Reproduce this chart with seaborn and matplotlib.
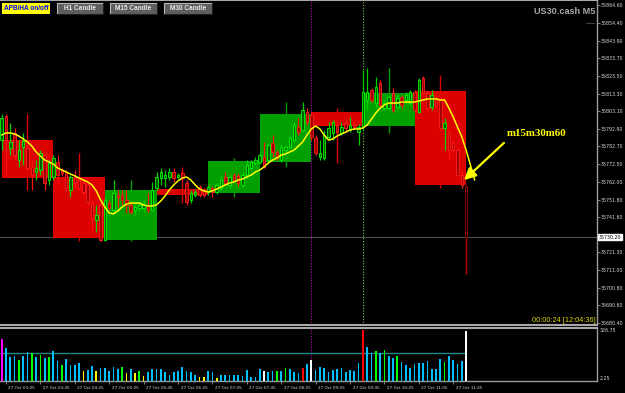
import matplotlib
matplotlib.use("Agg")
import matplotlib.pyplot as plt
import seaborn as sns
import numpy as np
from matplotlib import font_manager as fm
from matplotlib.patches import Rectangle
from matplotlib.lines import Line2D
from matplotlib.transforms import blended_transform_factory, ScaledTranslation

# ---------------- data ----------------
opens = [35786.4, 35800.3, 35781.8, 35790.5, 35774.8, 35782.4, 35781.8, 35770.8, 35767.9, 35769.0,
         35777.7, 35763.2, 35765.0, 35773.7, 35768.5, 35767.9, 35757.5, 35765.0, 35763.2, 35761.5,
         35760.4, 35749.9, 35740.1, 35748.8, 35728.5, 35749.9, 35745.9, 35754.6, 35754.6, 35751.7,
         35748.8, 35745.9, 35747.0, 35747.0, 35748.2, 35745.9, 35758.6, 35764.4, 35764.4, 35765.0,
         35767.9, 35765.0, 35767.3, 35761.5, 35751.7, 35754.6, 35759.2, 35757.5, 35756.3, 35758.6,
         35756.3, 35758.6, 35765.0, 35760.4, 35766.1, 35765.6, 35760.4, 35766.1, 35770.2, 35773.1,
         35773.7, 35776.6, 35774.8, 35784.7, 35779.5, 35774.8, 35780.6, 35782.4, 35786.4, 35793.9,
         35792.2, 35802.6, 35800.9, 35787.6, 35776.6, 35776.0, 35788.2, 35790.5, 35795.1, 35790.5,
         35796.3, 35792.2, 35795.1, 35791.0, 35793.9, 35809.6, 35815.4, 35807.8, 35819.4, 35804.9,
         35804.9, 35813.6, 35805.5, 35811.3, 35809.6, 35807.8, 35814.2, 35802.6, 35822.3, 35813.6,
         35805.5, 35810.7, 35809.6, 35793.4, 35790.5, 35784.7, 35780.6, 35766.1, 35759.2]
highs = [35801.5, 35801.5, 35796.3, 35793.4, 35786.4, 35790.5, 35783.5, 35774.8, 35774.8, 35780.6,
         35778.9, 35774.8, 35777.7, 35777.7, 35770.2, 35769.0, 35766.1, 35769.0, 35765.0, 35763.2,
         35761.5, 35751.7, 35748.8, 35749.9, 35753.4, 35751.7, 35763.2, 35757.5, 35757.5, 35757.5,
         35749.9, 35749.9, 35749.9, 35751.7, 35755.7, 35762.1, 35767.9, 35770.2, 35769.0, 35770.2,
         35770.2, 35767.3, 35769.0, 35763.2, 35757.5, 35758.0, 35760.4, 35758.6, 35760.4, 35759.8,
         35761.5, 35766.1, 35767.9, 35766.7, 35767.3, 35767.3, 35767.9, 35774.8, 35774.8, 35776.6,
         35779.5, 35785.3, 35784.7, 35789.3, 35780.6, 35783.5, 35783.5, 35789.3, 35796.8, 35799.2,
         35808.4, 35804.9, 35802.6, 35789.3, 35786.4, 35792.2, 35796.8, 35798.0, 35796.8, 35796.8,
         35799.2, 35799.7, 35796.8, 35795.7, 35827.0, 35828.1, 35816.5, 35822.9, 35821.2, 35809.6,
         35812.5, 35816.5, 35812.5, 35812.5, 35814.2, 35815.4, 35815.4, 35822.3, 35823.5, 35815.4,
         35815.4, 35811.9, 35810.7, 35799.2, 35792.2, 35786.4, 35781.8, 35767.9, 35760.4]
lows = [35780.6, 35766.1, 35777.7, 35774.8, 35770.8, 35771.9, 35769.0, 35757.5, 35763.2, 35766.1,
        35757.5, 35760.4, 35763.2, 35760.4, 35765.6, 35756.3, 35753.4, 35758.6, 35757.5, 35754.6,
        35748.8, 35734.3, 35733.1, 35727.9, 35727.9, 35745.9, 35744.1, 35747.6, 35748.8, 35744.1,
        35743.6, 35743.0, 35745.3, 35744.7, 35744.7, 35745.3, 35757.5, 35760.4, 35759.2, 35763.2,
        35762.1, 35763.8, 35763.2, 35748.8, 35749.9, 35753.4, 35753.4, 35753.4, 35754.6, 35753.4,
        35755.1, 35757.5, 35760.4, 35758.6, 35762.1, 35759.8, 35759.2, 35764.4, 35769.0, 35771.9,
        35772.5, 35770.2, 35773.7, 35776.6, 35774.8, 35773.7, 35779.5, 35781.2, 35785.3, 35789.3,
        35791.0, 35795.1, 35786.4, 35777.7, 35774.8, 35774.8, 35786.4, 35786.4, 35789.9, 35789.3,
        35791.0, 35791.0, 35792.8, 35783.5, 35792.2, 35803.8, 35808.4, 35804.9, 35805.5, 35803.8,
        35803.8, 35802.6, 35803.8, 35804.9, 35807.8, 35806.7, 35802.6, 35802.0, 35812.5, 35803.8,
        35803.8, 35804.9, 35792.2, 35780.6, 35774.8, 35779.5, 35765.0, 35758.6, 35708.8]
closes = [35799.2, 35786.4, 35785.3, 35777.7, 35780.6, 35785.8, 35770.2, 35766.1, 35770.2, 35778.9,
          35761.5, 35773.1, 35776.0, 35766.1, 35767.3, 35758.6, 35765.0, 35761.5, 35758.6, 35756.3,
          35750.5, 35741.2, 35743.0, 35728.5, 35751.7, 35747.0, 35755.7, 35753.4, 35751.7, 35748.8,
          35744.7, 35747.6, 35748.8, 35748.8, 35745.9, 35757.5, 35765.0, 35767.9, 35766.1, 35767.9,
          35764.4, 35766.1, 35764.4, 35750.5, 35755.7, 35756.3, 35754.6, 35754.6, 35759.2, 35756.3,
          35760.4, 35763.2, 35761.5, 35765.0, 35763.2, 35761.5, 35766.1, 35771.9, 35773.7, 35774.8,
          35777.7, 35770.8, 35783.5, 35779.5, 35776.0, 35782.4, 35782.4, 35787.6, 35795.1, 35791.0,
          35803.8, 35796.8, 35788.2, 35778.9, 35778.9, 35789.3, 35793.4, 35796.8, 35791.0, 35793.9,
          35793.4, 35795.1, 35793.9, 35793.9, 35814.2, 35814.2, 35809.6, 35817.1, 35806.7, 35807.8,
          35811.3, 35803.8, 35810.7, 35806.7, 35812.5, 35814.2, 35803.8, 35821.2, 35813.6, 35804.9,
          35812.5, 35806.7, 35793.4, 35796.3, 35780.6, 35780.6, 35766.1, 35760.4, 35730.2]

# yellow moving average (one value per bar, line runs slightly past the last bar)
ma_values = [35789.3, 35790.5, 35790.5, 35789.9, 35788.7, 35787.0, 35785.3, 35782.9, 35779.5, 35777.1,
             35774.8, 35773.7, 35772.5, 35770.2, 35769.0, 35767.9, 35766.7, 35765.6, 35764.4, 35763.2,
             35762.1, 35760.4, 35756.9, 35751.7, 35747.6, 35744.1, 35743.6, 35745.3, 35747.6, 35749.3,
             35749.9, 35749.9, 35749.9, 35748.8, 35748.2, 35748.2, 35748.8, 35751.1, 35754.0, 35757.5,
             35760.4, 35762.7, 35764.4, 35765.0, 35763.2, 35760.4, 35758.0, 35756.9, 35756.3, 35756.9,
             35758.0, 35759.2, 35760.4, 35761.5, 35762.1, 35763.2, 35763.8, 35765.0, 35766.1, 35767.9,
             35769.0, 35770.8, 35773.1, 35774.8, 35776.0, 35777.7, 35778.3, 35779.5, 35780.6, 35782.9,
             35785.3, 35789.3, 35792.8, 35794.5, 35792.8, 35789.3, 35786.4, 35787.0, 35788.7, 35789.9,
             35791.0, 35792.2, 35792.8, 35792.8, 35793.4, 35795.1, 35798.6, 35802.0, 35804.9, 35806.7,
             35807.8, 35807.8, 35807.8, 35808.4, 35808.4, 35808.4, 35808.4, 35809.0, 35809.6, 35810.2,
             35810.2, 35810.2, 35809.6, 35809.6, 35804.9, 35799.7, 35793.9, 35788.2, 35780.6, 35771.9,
             35763.2]

# hourly (H1) candles drawn as boxes
box_open = [35786.4, 35765.0, 35728.5, 35758.0, 35755.7, 35773.7, 35802.6, 35794.5, 35814.8]
box_close = [35764.4, 35729.7, 35757.5, 35754.6, 35774.3, 35801.5, 35794.5, 35813.6, 35760.4]
box_high = [35801.5, 35778.9, 35763.2, 35770.8, 35776.0, 35808.4, 35804.9, 35828.1, 35824.1]
box_low = [35757.5, 35727.9, 35727.9, 35749.9, 35753.4, 35770.8, 35773.1, 35790.5, 35758.6]

volumes = [265.7, 204.8, 144.0, 150.7, 123.7, 150.7, 177.8, 171.0, 144.0, 157.5,
           137.2, 144.0, 184.5, 116.9, 89.9, 130.5, 89.9, 89.9, 103.4, 49.3,
           56.1, 83.1, 49.3, 69.6, 69.6, 49.3, 76.4, 62.8, 76.4, 35.8,
           62.8, 35.8, 49.3, 15.5, 42.6, 62.8, 62.8, 62.8, 42.6, 22.3,
           42.6, 49.3, 76.4, 49.3, 42.6, 22.3, 8.8, 8.8, 49.3, 42.6,
           2.25, 22.3, 22.3, 22.3, 22.3, 22.3, 15.5, 56.1, 8.8, 8.8,
           62.8, 49.3, 42.6, 49.3, 49.3, 49.3, 69.6, 62.8, 42.6, 35.8,
           69.6, 96.7, 123.7, 56.1, 76.4, 69.6, 42.6, 56.1, 62.8, 69.6,
           42.6, 56.1, 49.3, 103.4, 326.5, 211.6, 171.0, 184.5, 171.0, 191.3,
           150.7, 137.2, 150.7, 110.2, 89.9, 69.6, 96.7, 103.4, 103.4, 116.9,
           62.8, 62.8, 130.5, 110.2, 150.7, 123.7, 96.7, 116.9, 319.7]
vol_kind = ("mcccgccgcg" "cgccgccccy" "ccycccccgy" "cygycccccc" "ccccccyycc"
            "yccccccccc" "cwccgcgccc" "rcwccccccc" "ccccrccgcg" "ccgccccccc" "cccgccccw")
avg_volume = 169.0

price_ticks = [35864.60, 35854.40, 35843.90, 35833.70, 35823.50, 35813.30, 35803.10, 35792.90,
               35782.70, 35772.50, 35762.00, 35751.80, 35741.60, 35721.30, 35711.00, 35700.80,
               35690.60, 35680.40]
vol_ticks = [326.75, 2.25]
time_labels = ["27 Oct 03:05", "27 Oct 03:45", "27 Oct 04:25", "27 Oct 05:05", "27 Oct 05:45",
               "27 Oct 06:25", "27 Oct 07:05", "27 Oct 07:45", "27 Oct 08:25", "27 Oct 09:05",
               "27 Oct 09:45", "27 Oct 10:25", "27 Oct 11:05", "27 Oct 11:45"]
time_label_bars = [1 + 8 * k for k in range(len(time_labels))]
marker_bars = {"magenta": 72, "green": 84}

# ---------------- style ----------------
sns.set_theme(style="dark")
avail = {f.name for f in fm.fontManager.ttflist}
NARROW = 'Liberation Sans Narrow' if 'Liberation Sans Narrow' in avail else 'DejaVu Sans'
SANS = 'Liberation Sans' if 'Liberation Sans' in avail else 'DejaVu Sans'
SERIF = 'Liberation Serif' if 'Liberation Serif' in avail else 'DejaVu Serif'
plt.rcParams['font.family'] = [SANS, 'DejaVu Sans']
AX_FS = 4.5 if NARROW != 'DejaVu Sans' else 3.4
XL_FS = 3.9 if NARROW != 'DejaVu Sans' else 3.0

W, H = 625, 393
fig = plt.figure(figsize=(6.25, 3.93), dpi=100, facecolor='black')


def fx(x):
    return x / W


def fy(y):
    return 1 - y / H


ax = fig.add_axes([0, fy(325), fx(597), 325 / H])
axv = fig.add_axes([0, fy(381), fx(597), 53 / H], sharex=ax)
GRAY = '#9a9a9a'
for a in (ax, axv):
    a.set_facecolor('black')
    a.grid(False)
    for s in a.spines.values():
        s.set_visible(False)
    a.spines['right'].set_visible(True)
    a.spines['right'].set_color(GRAY)
    a.spines['right'].set_linewidth(1.0)
ax.spines['bottom'].set_visible(True)
ax.spines['bottom'].set_color('#a8a8a8')
ax.spines['bottom'].set_linewidth(1.5)
ax.spines['top'].set_visible(True)
ax.spines['top'].set_color('#a8a8a8')
ax.spines['top'].set_linewidth(1.5)
axv.spines['top'].set_visible(True)
axv.spines['top'].set_color('#a8a8a8')
axv.spines['top'].set_linewidth(1.5)
axv.spines['bottom'].set_visible(True)
axv.spines['bottom'].set_color(GRAY)
axv.spines['bottom'].set_linewidth(1.0)

ax.set_xlim(-0.395, 138.44)
ax.set_ylim(35679.26, 35867.5)
axv.set_ylim(-18.0, 340.2)

o = np.array(opens)
h = np.array(highs)
l = np.array(lows)
c = np.array(closes)
idx = np.arange(len(o))
n = len(o)

# current price line
ax.axhline(c[-1], color='#505050', lw=0.8, zorder=0.5)

# hour boxes
RED_BOX = '#dc0000'
GREEN_BOX = '#00a000'
for k in range(len(box_open)):
    bo, bc = box_open[k], box_close[k]
    col = GREEN_BOX if bc >= bo else RED_BOX
    ax.vlines(12 * k + 6, box_low[k], box_high[k], color=col, lw=1.0, zorder=1)
    ax.bar(12 * k, abs(bc - bo), bottom=min(bo, bc), width=12, align='edge',
           color=col, lw=0, zorder=1.1)

# candles
bull = c >= o
wick_col = np.where(bull, '#00d000', '#ff1010')
ax.vlines(idx, l, h, colors=list(wick_col), lw=0.9, zorder=3)
face = np.where(bull, '#005a00', '#a00000').tolist()
edge = np.where(bull, '#00ff00', '#ff2020').tolist()
face[-1] = 'black'
edge[-1] = '#a00000'
ax.vlines(idx[-1], l[-1], h[-1], color='#a00000', lw=0.9, zorder=3.5)
body = np.maximum(np.abs(c - o), 0.4)
ax.bar(idx, body, bottom=np.minimum(o, c), width=0.58, color=face, edgecolor=edge,
       lw=0.6, zorder=4)

# moving average
sns.lineplot(x=np.arange(len(ma_values)), y=ma_values, ax=ax, color='#ffff00',
             linewidth=1.1, zorder=5)

# marker lines
for a in (ax, axv):
    a.axvline(marker_bars["magenta"], color='#c000c0', lw=0.8, ls=(0, (1, 1.5)), zorder=2)
    a.axvline(marker_bars["green"], color='#80d040', lw=0.8, ls=(0, (1, 1.5)), zorder=2)

# price axis
ax.yaxis.tick_right()
ax.set_yticks(price_ticks)
ax.set_yticklabels([f"{t:.2f}" for t in price_ticks])
ax.tick_params(axis='y', direction='out', length=2.0, width=0.6, color=GRAY,
               labelcolor='#d8d8d8', labelsize=AX_FS, pad=0.6)
for t in ax.get_yticklabels():
    t.set_family([NARROW, 'DejaVu Sans'])
ax.tick_params(axis='x', bottom=False, labelbottom=False)
ax.set_xlabel('')
ax.set_ylabel('')

# current price tag
tr = blended_transform_factory(ax.transAxes, ax.transData)
ax.text(1.0, c[-1], f"{c[-1]:.2f}", transform=tr + ScaledTranslation(2.0 / 100, 0, fig.dpi_scale_trans),
        ha='left', va='center', fontsize=AX_FS, color='black', family=[NARROW, 'DejaVu Sans'],
        bbox=dict(boxstyle='square,pad=0.15', fc='white', ec='white'), clip_on=False, zorder=10)

# volume subwindow
VOL_COLORS = {'c': '#00bfff', 'g': '#00ff00', 'y': '#ffff00', 'r': '#ff0000', 'w': '#ffffff', 'm': '#ff00ff'}
vcols = [VOL_COLORS[k] for k in vol_kind]
vol = np.array(volumes)
axv.bar(idx, vol + 18.0, bottom=-18.0, width=0.4, color=vcols, lw=0, zorder=3)
axv.hlines(avg_volume, -0.4, n - 1, color='#1a8a8a', lw=1.0, zorder=2)
axv.yaxis.tick_right()
axv.set_yticks(vol_ticks)
axv.set_yticklabels([f"{t:.2f}" for t in vol_ticks])
axv.tick_params(axis='y', length=0, labelcolor='#d8d8d8', labelsize=AX_FS, pad=2.0)
for t in axv.get_yticklabels():
    t.set_family([NARROW, 'DejaVu Sans'])
axv.set_xticks(time_label_bars)
axv.set_xticklabels(time_labels)
axv.tick_params(axis='x', bottom=True, labelbottom=True, direction='out', length=2.5, width=0.6,
                color=GRAY, labelcolor='#d8d8d8', labelsize=XL_FS, pad=0.8)
for t in axv.get_xticklabels():
    t.set_ha('left')
    t.set_family([NARROW, 'DejaVu Sans'])
    t.set_transform(t.get_transform() + ScaledTranslation(2.5 / 100, 0, fig.dpi_scale_trans))
axv.set_xlabel('')
axv.set_ylabel('')


# ---------------- overlay texts ----------------
def button(x0, x1, y0, y1, text, fc, tc, light=None, dark=None):
    fig.add_artist(Rectangle((fx(x0), fy(y1)), fx(x1 - x0), (y1 - y0) / H,
                             transform=fig.transFigure, fc=fc, ec='none', zorder=20))
    if light:
        fig.add_artist(Line2D([fx(x0), fx(x0), fx(x1)], [fy(y1), fy(y0), fy(y0)],
                              transform=fig.transFigure, color=light, lw=0.8, zorder=21))
        fig.add_artist(Line2D([fx(x0), fx(x1), fx(x1)], [fy(y1), fy(y1), fy(y0)],
                              transform=fig.transFigure, color=dark, lw=0.8, zorder=21))
    fig.text(fx((x0 + x1) / 2), fy((y0 + y1) / 2 + 0.3), text, ha='center', va='center',
             fontsize=4.7, weight='bold', color=tc, zorder=22)


button(2, 50, 3, 14, "APB/HA on/off", '#ffff00', '#0000ff')
button(57, 103, 3, 14, "H1 Candle", '#5e5e5e', '#e8e8e8', '#b8b8b8', '#202020')
button(110, 157, 3, 14, "M15 Candle", '#5e5e5e', '#e8e8e8', '#b8b8b8', '#202020')
button(164, 212, 3, 14, "M30 Candle", '#5e5e5e', '#e8e8e8', '#b8b8b8', '#202020')

fig.text(fx(595), fy(12), "US30.cash M5", ha='right', va='center', fontsize=6.6,
         weight='bold', color='#a8a8a8')
fig.text(fx(595), fy(23), ".....", ha='right', va='center', fontsize=5, weight='bold',
         color='#a8a8a8')
fig.text(fx(596), fy(320.5), "00:00:24 [12:04:36]", ha='right', va='center', fontsize=5.3,
         color='#d8d800')
fig.text(fx(507), fy(134), "m15m30m60", ha='left', va='center', fontsize=7.8,
         weight='bold', color='#ffff00', family=[SERIF, 'DejaVu Serif'])
ax.annotate('', xy=(fx(462), fy(182)), xytext=(fx(506), fy(141)),
            xycoords='figure fraction', textcoords='figure fraction',
            arrowprops=dict(arrowstyle='-|>,head_length=0.7,head_width=0.35',
                            color='#ffff00', lw=1.6, mutation_scale=10), zorder=30)

fig.savefig("out.png", dpi=100, facecolor='black')
